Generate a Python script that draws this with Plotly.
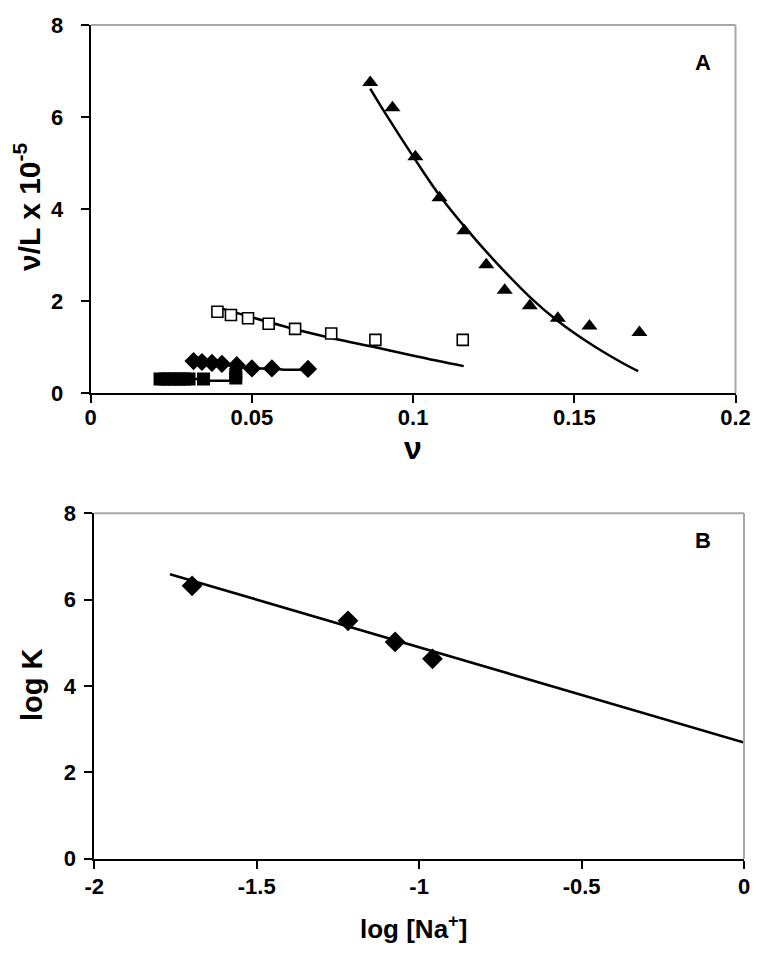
import plotly.graph_objects as go

# ---------------- Panel A data ----------------
tri_x = [0.0867, 0.0936, 0.1007, 0.1082, 0.1159, 0.1227, 0.1284, 0.1362, 0.1449, 0.1547, 0.1702]
tri_y = [6.75, 6.20, 5.14, 4.25, 3.53, 2.79, 2.24, 1.90, 1.63, 1.46, 1.32]
tri_fit_x = [0.0867, 0.0914, 0.1007, 0.1085, 0.1168, 0.1250, 0.1364, 0.1449, 0.1540, 0.1644, 0.1698]
tri_fit_y = [6.62, 6.08, 5.07, 4.27, 3.55, 2.90, 2.08, 1.57, 1.12, 0.68, 0.48]

osq_x = [0.0393, 0.0435, 0.0488, 0.0552, 0.0634, 0.0746, 0.0883, 0.1154]
osq_y = [1.77, 1.70, 1.63, 1.51, 1.40, 1.30, 1.16, 1.16]
osq_fit_x = [0.0402, 0.0634, 0.0753, 0.0883, 0.1012, 0.1157]
osq_fit_y = [1.85, 1.39, 1.19, 1.00, 0.80, 0.59]

dia_x = [0.0319, 0.0345, 0.0376, 0.0407, 0.0453, 0.0500, 0.0562, 0.0674]
dia_y = [0.70, 0.68, 0.66, 0.64, 0.61, 0.54, 0.54, 0.53]
dia_fit_x = [0.0319, 0.0407, 0.0453, 0.0500, 0.0562, 0.0600, 0.0674]
dia_fit_y = [0.69, 0.63, 0.58, 0.54, 0.54, 0.51, 0.51]

fsq_x = [0.0215, 0.0230, 0.0245, 0.0260, 0.0275, 0.0290, 0.0305, 0.0350, 0.0450, 0.0450]
fsq_y = [0.31, 0.31, 0.31, 0.31, 0.31, 0.31, 0.31, 0.31, 0.41, 0.33]
fsq_fit_x = [0.0215, 0.0350, 0.0365, 0.0440, 0.0440, 0.0450]
fsq_fit_y = [0.31, 0.31, 0.27, 0.27, 0.45, 0.55]

a_xticks = [0, 0.05, 0.1, 0.15, 0.2]
a_xtick_text = ["0", "0.05", "0.1", "0.15", "0.2"]
a_yticks = [0, 2, 4, 6, 8]

# ---------------- Panel B data ----------------
b_x = [-1.699, -1.219, -1.074, -0.959]
b_y = [6.32, 5.51, 5.02, 4.63]
b_fit_x = [-1.767, 0.0]
b_fit_y = [6.59, 2.69]
b_xticks = [-2, -1.5, -1, -0.5, 0]
b_xtick_text = ["-2", "-1.5", "-1", "-0.5", "0"]
b_yticks = [0, 2, 4, 6, 8]

FONT = "Liberation Sans, Arial, sans-serif"
LINE_W = 2.5

# page body has an 8px margin; size the figure so it fits the window
OFF = 8
W, H = 758 - 2 * OFF, 956 - 2 * OFF


def px(x):
    return (x - OFF) / W


def py(y):
    return 1 - (y - OFF) / H


fig = go.Figure()


def line(x, y, xa, ya, shape="linear"):
    fig.add_trace(go.Scatter(x=x, y=y, mode="lines", xaxis=xa, yaxis=ya,
                             line=dict(color="black", width=LINE_W, shape=shape),
                             showlegend=False, hoverinfo="skip"))


def pts(x, y, xa, ya, symbol, size, filled=True):
    fig.add_trace(go.Scatter(x=x, y=y, mode="markers", xaxis=xa, yaxis=ya,
                             marker=dict(symbol=symbol, size=size,
                                         color="black" if filled else "white",
                                         line=dict(color="black", width=0 if filled else 1.6)),
                             showlegend=False))


# Panel A
line(tri_fit_x, tri_fit_y, "x", "y", shape="spline")
line(osq_fit_x, osq_fit_y, "x", "y", shape="spline")
line(dia_fit_x, dia_fit_y, "x", "y")
line(fsq_fit_x, fsq_fit_y, "x", "y")
pts(tri_x, tri_y, "x", "y", "triangle-up", 14)
pts(osq_x, osq_y, "x", "y", "square", 11, filled=False)
pts(dia_x, dia_y, "x", "y", "diamond", 14)
pts(fsq_x, fsq_y, "x", "y", "square", 13)

# Panel B
line(b_fit_x, b_fit_y, "x2", "y2")
pts(b_x, b_y, "x2", "y2", "diamond", 16)

tickfont = dict(family=FONT, size=22, color="black", weight="bold")
axis_common = dict(showgrid=False, zeroline=False, showline=True, linecolor="black",
                   linewidth=2, ticks="outside", ticklen=8, tickwidth=1.5,
                   tickcolor="black", tickfont=tickfont, mirror=False, automargin=False,
                   ticklabeloverflow="allow")

fig.update_layout(
    width=W, height=H,
    margin=dict(l=0, r=0, t=0, b=0),
    paper_bgcolor="white", plot_bgcolor="white",
    font=dict(family=FONT, color="black"),
    xaxis=dict(domain=[px(90.7), px(735.5)], range=[0, 0.2], anchor="y",
               tickvals=a_xticks, ticktext=a_xtick_text, ticklabelstandoff=-5, **axis_common),
    yaxis=dict(domain=[py(393.3), py(25)], range=[0, 8], anchor="x",
               tickvals=a_yticks, ticklabelstandoff=13, **axis_common),
    xaxis2=dict(domain=[px(94.3), px(744)], range=[-2, 0], anchor="y2",
                tickvals=b_xticks, ticktext=b_xtick_text, ticklabelstandoff=-1, **axis_common),
    yaxis2=dict(domain=[py(858.7), py(513.3)], range=[0, 8], anchor="x2",
                tickvals=b_yticks, ticklabelstandoff=4, **axis_common),
)

# gray top/right borders
for xa, ya in [("x", "y"), ("x2", "y2")]:
    fig.add_shape(type="line", xref=f"{xa} domain", yref=f"{ya} domain",
                  x0=0, x1=1, y0=1, y1=1, line=dict(color="#a6a6a6", width=2))
    fig.add_shape(type="line", xref=f"{xa} domain", yref=f"{ya} domain",
                  x0=1, x1=1, y0=0, y1=1, line=dict(color="#a6a6a6", width=2))

title_font = dict(family=FONT, size=30, color="black", weight="bold")


def ann(text, x, y, font, angle=0):
    return dict(text=text, x=px(x), y=py(y), xref="paper", yref="paper",
                xanchor="center", yanchor="middle", showarrow=False,
                textangle=angle, font=font)


annotations = [
    ann("A", 703, 62, dict(family=FONT, size=22, color="black", weight="bold")),
    ann("B", 703, 540, dict(family=FONT, size=22, color="black", weight="bold")),
    ann("ν", 413, 448, dict(family=FONT, size=32, color="black", weight="bold")),
    ann("ν/L x 10<sup>-5</sup>", 27, 207, title_font, -90),
    ann("log K", 32, 685, dict(family=FONT, size=29, color="black", weight="bold"), -90),
    ann("log [Na<sup>+</sup>]", 413, 927, dict(family=FONT, size=26, color="black", weight="bold")),
]
fig.update_layout(annotations=annotations)

fig.write_html("out.html")
